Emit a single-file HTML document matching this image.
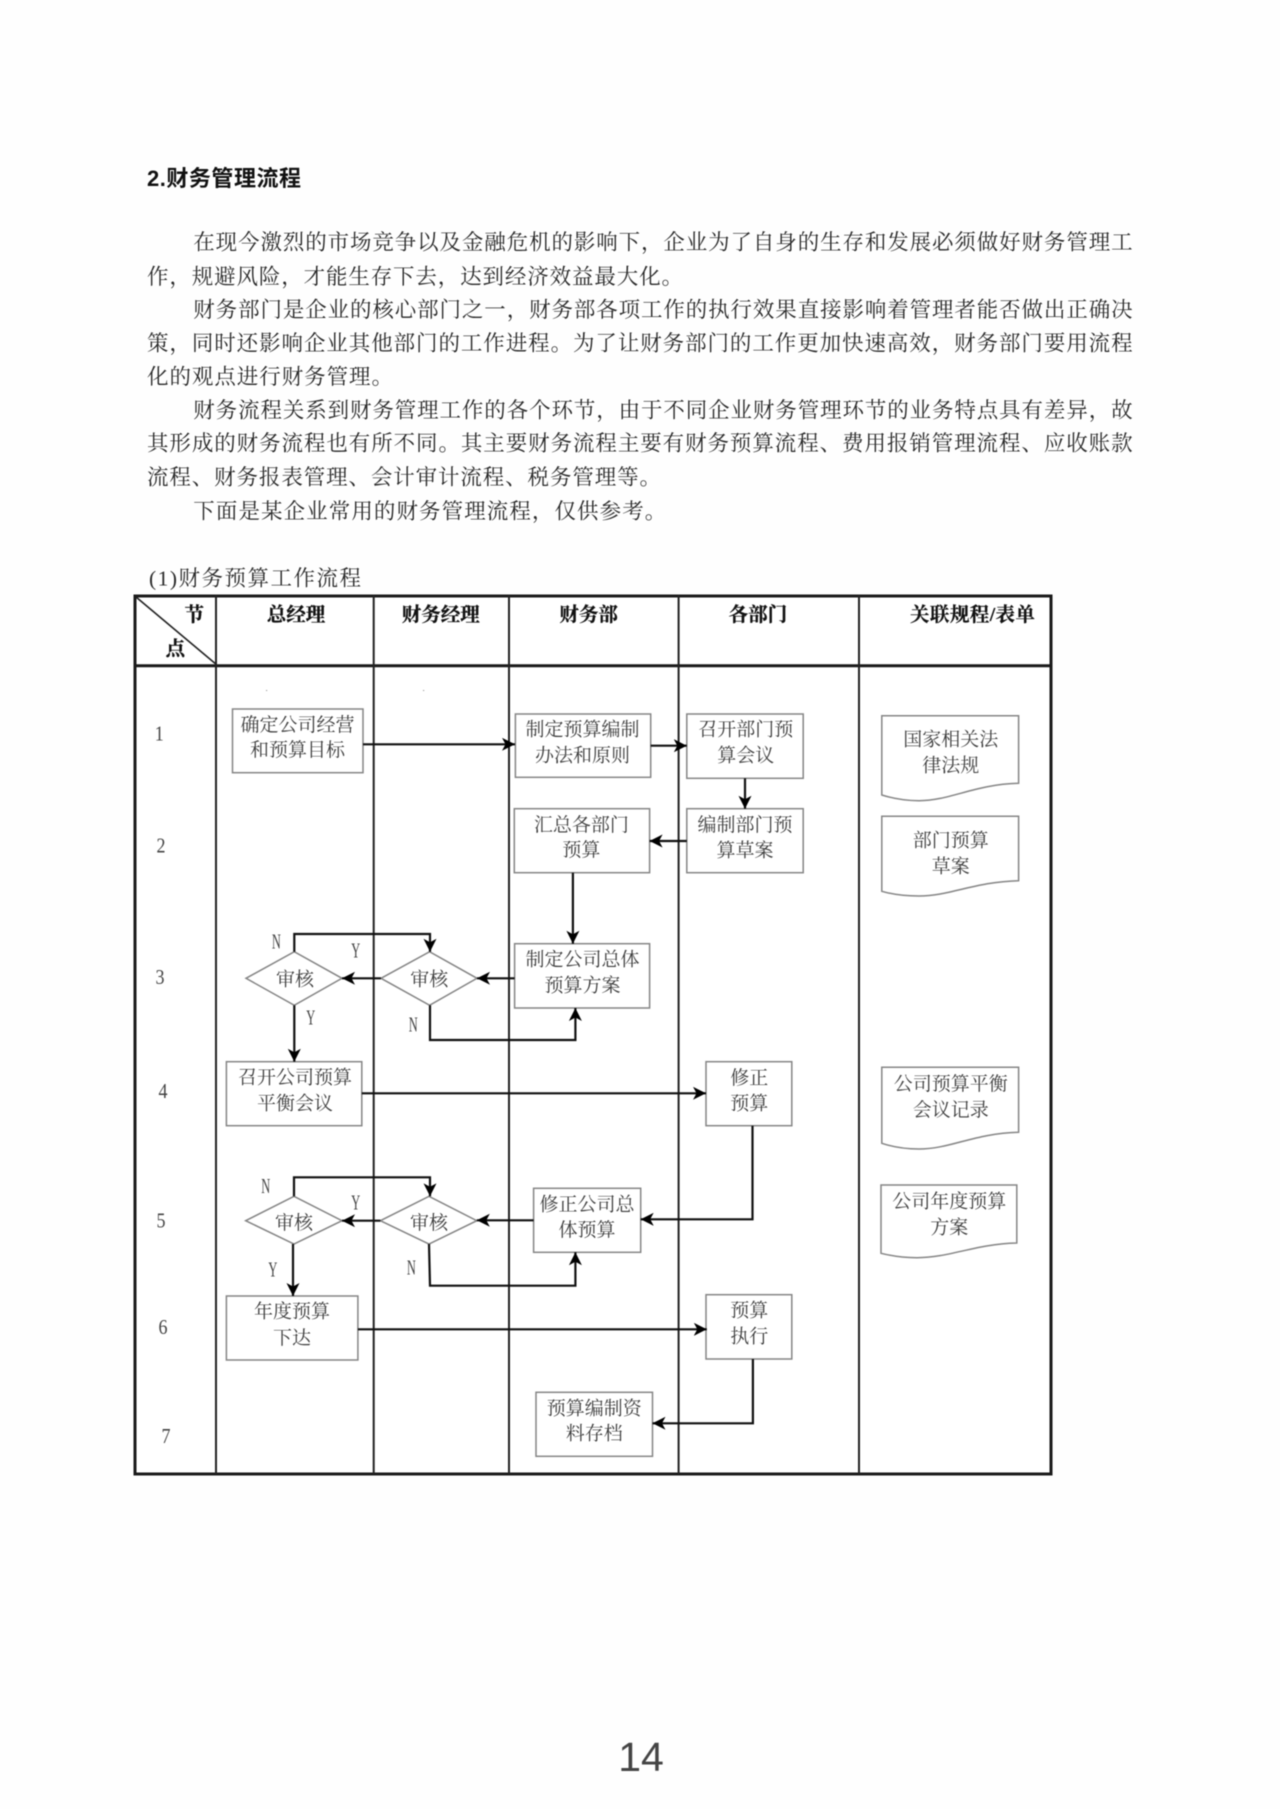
<!DOCTYPE html>
<html><head><meta charset="utf-8"><style>
html,body{margin:0;padding:0;background:#fff;width:1280px;height:1809px;overflow:hidden}
svg{display:block;filter:blur(.4px)}
text{font-family:"Liberation Serif","Noto Serif CJK SC",serif}
.p{font-size:21.5px;fill:#2a2a2a}
.b{font-size:19px;fill:#3c3c3c;text-anchor:middle}
.h{font-size:19.5px;font-weight:700;fill:#111;stroke:#111;stroke-width:.25;text-anchor:middle}
.l{font-size:21px;fill:#444;text-anchor:middle}
.box{fill:#fff;stroke:#858585;stroke-width:1.5}
.c{fill:none;stroke:#111;stroke-width:2.2}
.t{fill:none;stroke:#222;stroke-width:2}
</style></head><body>
<svg width="1280" height="1809" viewBox="0 0 1280 1809" xmlns="http://www.w3.org/2000/svg">
<defs><marker id="a" markerUnits="userSpaceOnUse" markerWidth="15" markerHeight="15" refX="13" refY="6.5" orient="auto"><path d="M0,0 L13,6.5 L0,13 L3.5,6.5 z" fill="#000"/></marker></defs>
<rect width="1280" height="1809" fill="#fefefe"/>

<text x="147" y="186" style="font-family:'Liberation Sans','Noto Sans CJK SC',sans-serif;font-size:22px;font-weight:700;fill:#111" textLength="154">2.财务管理流程</text>
<text class="p" x="193.3" y="249.5" textLength="939.3">在现今激烈的市场竞争以及金融危机的影响下，企业为了自身的生存和发展必须做好财务管理工</text>
<text class="p" x="147" y="284" textLength="536">作，规避风险，才能生存下去，达到经济效益最大化。</text>
<text class="p" x="193.3" y="317" textLength="939.3">财务部门是企业的核心部门之一，财务部各项工作的执行效果直接影响着管理者能否做出正确决</text>
<text class="p" x="147" y="350.3" textLength="985.6">策，同时还影响企业其他部门的工作进程。为了让财务部门的工作更加快速高效，财务部门要用流程</text>
<text class="p" x="147" y="384" textLength="246">化的观点进行财务管理。</text>
<text class="p" x="193.3" y="417.3" textLength="939.3">财务流程关系到财务管理工作的各个环节，由于不同企业财务管理环节的业务特点具有差异，故</text>
<text class="p" x="147" y="450.7" textLength="985.6">其形成的财务流程也有所不同。其主要财务流程主要有财务预算流程、费用报销管理流程、应收账款</text>
<text class="p" x="147" y="484.7" textLength="514">流程、财务报表管理、会计审计流程、税务管理等。</text>
<text class="p" x="193.3" y="518.7" textLength="473">下面是某企业常用的财务管理流程，仅供参考。</text>
<text class="p" x="149" y="585.3" textLength="212">(1)财务预算工作流程</text>

<!-- table -->
<rect x="135" y="596" width="916" height="878" fill="#fff" stroke="#1a1a1a" stroke-width="3"/>
<path d="M134,665.7 H1051" stroke="#1a1a1a" stroke-width="3" fill="none"/>
<path class="t" d="M216,595 V1474 M373.7,595 V1474 M509,595 V1474 M678.6,595 V1474 M859,595 V1474"/>
<path d="M136,597 L216.4,664.5" stroke="#222" stroke-width="1.6" fill="none"/>
<rect x="266" y="690" width="1.2" height="1" fill="#999"/><rect x="423" y="690" width="1.2" height="1" fill="#999"/>

<text class="h" x="194.3" y="621">节</text>
<text class="h" x="175.4" y="655">点</text>
<text class="h" x="296" y="621">总经理</text>
<text class="h" x="440.7" y="621">财务经理</text>
<text class="h" x="588.6" y="621">财务部</text>
<text class="h" x="757.9" y="621">各部门</text>
<text class="h" x="972.5" y="621" textLength="125">关联规程/表单</text>

<text class="l" x="159.3" y="740.5" textLength="9" lengthAdjust="spacingAndGlyphs">1</text>
<text class="l" x="161" y="852.5" textLength="9" lengthAdjust="spacingAndGlyphs">2</text>
<text class="l" x="160" y="984" textLength="9" lengthAdjust="spacingAndGlyphs">3</text>
<text class="l" x="163" y="1098" textLength="9" lengthAdjust="spacingAndGlyphs">4</text>
<text class="l" x="161" y="1227.5" textLength="9" lengthAdjust="spacingAndGlyphs">5</text>
<text class="l" x="163" y="1334" textLength="9" lengthAdjust="spacingAndGlyphs">6</text>
<text class="l" x="166" y="1443" textLength="9" lengthAdjust="spacingAndGlyphs">7</text>

<!-- shapes -->
<rect class="box" x="232.5" y="709" width="130.5" height="63.7"/>
<rect class="box" x="515.4" y="714" width="135.3" height="63.3"/>
<rect class="box" x="686.8" y="714" width="116.4" height="64.3"/>
<rect class="box" x="514.3" y="808.7" width="135.3" height="64"/>
<rect class="box" x="686.8" y="808.7" width="116.4" height="64"/>
<rect class="box" x="514.6" y="943.7" width="135" height="64.3"/>
<rect class="box" x="226.4" y="1061.7" width="135.4" height="64"/>
<rect class="box" x="706" y="1061.7" width="85.8" height="64"/>
<rect class="box" x="533.6" y="1188.3" width="107.1" height="64"/>
<rect class="box" x="226.4" y="1296" width="131.5" height="64"/>
<rect class="box" x="706" y="1294.7" width="85.8" height="64.3"/>
<rect class="box" x="536" y="1392.3" width="116.5" height="64"/>
<path class="box" d="M246,978.3 L294.3,951.7 L342,978.3 L294.3,1005.3 Z"/>
<path class="box" d="M381,978.3 L429.6,951.7 L477,978.3 L429.6,1005.3 Z"/>
<path class="box" d="M245.7,1220.7 L294,1196.3 L342,1220.7 L294,1244 Z"/>
<path class="box" d="M380.4,1220.7 L429,1196.3 L476.8,1220.7 L429,1244 Z"/>
<path class="box" d="M881.8,715.7 H1018.6 V783.3 C975,784.3 950,800.7 919,800.7 C905,800.7 893,798.5 881.8,795 Z"/>
<path class="box" d="M881.8,816.3 H1018.6 V880.7 C975,881.7 950,896 919,896 C905,896 893,894.5 881.8,891.3 Z"/>
<path class="box" d="M881.8,1067.3 H1018.6 V1132.3 C975,1133.3 950,1149 919,1149 C905,1149 893,1147 881.8,1143.3 Z"/>
<path class="box" d="M881,1185 H1016.8 V1243 C975,1244 950,1257.7 917,1257.7 C903,1257.7 892,1256 881,1253.3 Z"/>

<!-- connectors -->
<g>
<path class="c" d="M363,744.3 H515" marker-end="url(#a)"/>
<path class="c" d="M650.7,745.7 H686.8" marker-end="url(#a)"/>
<path class="c" d="M745,778.3 V808.7" marker-end="url(#a)"/>
<path class="c" d="M686.8,841 H649.6" marker-end="url(#a)"/>
<path class="c" d="M572.9,872.7 V943.7" marker-end="url(#a)"/>
<path class="c" d="M514.6,978.3 H477" marker-end="url(#a)"/>
<path class="c" d="M381,978.3 H342" marker-end="url(#a)"/>
<path class="c" d="M294.3,951.7 V934 H430 V951.7" marker-end="url(#a)"/>
<path class="c" d="M430,1005.3 V1040 H575.4 V1008" marker-end="url(#a)"/>
<path class="c" d="M294.3,1005.3 V1061.7" marker-end="url(#a)"/>
<path class="c" d="M361.8,1093.3 H706" marker-end="url(#a)"/>
<path class="c" d="M752.5,1125.7 V1219.3 H640.7" marker-end="url(#a)"/>
<path class="c" d="M533.6,1220.3 H476.8" marker-end="url(#a)"/>
<path class="c" d="M380.4,1220.7 H342" marker-end="url(#a)"/>
<path class="c" d="M294,1196.3 V1177.3 H430 V1196.3" marker-end="url(#a)"/>
<path class="c" d="M429,1244 L430,1285.7 H575.4 V1252.3" marker-end="url(#a)"/>
<path class="c" d="M293,1244 V1296" marker-end="url(#a)"/>
<path class="c" d="M357.9,1329.3 H706.8" marker-end="url(#a)"/>
<path class="c" d="M752.9,1359 V1423.3 H652.5" marker-end="url(#a)"/>
</g>

<!-- node text -->
<text class="b" x="297.5" y="731">确定公司经营</text><text class="b" x="297.5" y="756">和预算目标</text>
<text class="b" x="582.5" y="735.7">制定预算编制</text><text class="b" x="582.5" y="761.7">办法和原则</text>
<text class="b" x="745.7" y="735.7">召开部门预</text><text class="b" x="745.7" y="761.7">算会议</text>
<text class="b" x="581.4" y="831">汇总各部门</text><text class="b" x="581.4" y="856">预算</text>
<text class="b" x="745" y="831">编制部门预</text><text class="b" x="745" y="856.7">算草案</text>
<text class="b" x="582.5" y="965.7">制定公司总体</text><text class="b" x="582.5" y="991.7">预算方案</text>
<text class="b" x="295" y="985.7">审核</text><text class="b" x="429.3" y="985.7">审核</text>
<text class="b" x="295" y="1083.4">召开公司预算</text><text class="b" x="295" y="1109.4">平衡会议</text>
<text class="b" x="749.3" y="1084">修正</text><text class="b" x="749.3" y="1109.4">预算</text>
<text class="b" x="294" y="1229">审核</text><text class="b" x="429" y="1229">审核</text>
<text class="b" x="587" y="1210.4">修正公司总</text><text class="b" x="587" y="1236">体预算</text>
<text class="b" x="292" y="1317.7">年度预算</text><text class="b" x="292" y="1344">下达</text>
<text class="b" x="749.3" y="1316.7">预算</text><text class="b" x="749.3" y="1342.7">执行</text>
<text class="b" x="594.3" y="1414.4">预算编制资</text><text class="b" x="594.3" y="1439.4">料存档</text>
<text class="b" x="950.7" y="745.7">国家相关法</text><text class="b" x="950.7" y="771.7">律法规</text>
<text class="b" x="950.7" y="846.4">部门预算</text><text class="b" x="950.7" y="872.4">草案</text>
<text class="b" x="950.7" y="1090">公司预算平衡</text><text class="b" x="950.7" y="1116">会议记录</text>
<text class="b" x="949.3" y="1207.4">公司年度预算</text><text class="b" x="949.3" y="1233.4">方案</text>

<g style="font-size:21px;fill:#444;text-anchor:middle">
<text x="276.4" y="948.7" textLength="9" lengthAdjust="spacingAndGlyphs">N</text>
<text x="355.7" y="957.7" textLength="9" lengthAdjust="spacingAndGlyphs">Y</text>
<text x="310.7" y="1024.3" textLength="9" lengthAdjust="spacingAndGlyphs">Y</text>
<text x="413.2" y="1031.3" textLength="9" lengthAdjust="spacingAndGlyphs">N</text>
<text x="265.7" y="1193" textLength="9" lengthAdjust="spacingAndGlyphs">N</text>
<text x="355.7" y="1209.7" textLength="9" lengthAdjust="spacingAndGlyphs">Y</text>
<text x="272.9" y="1276.3" textLength="9" lengthAdjust="spacingAndGlyphs">Y</text>
<text x="411.4" y="1274.3" textLength="9" lengthAdjust="spacingAndGlyphs">N</text>
</g>

<text x="641" y="1771" style="font-family:'Liberation Sans',sans-serif;font-size:41px;fill:#444;text-anchor:middle">14</text>
</svg>
</body></html>
